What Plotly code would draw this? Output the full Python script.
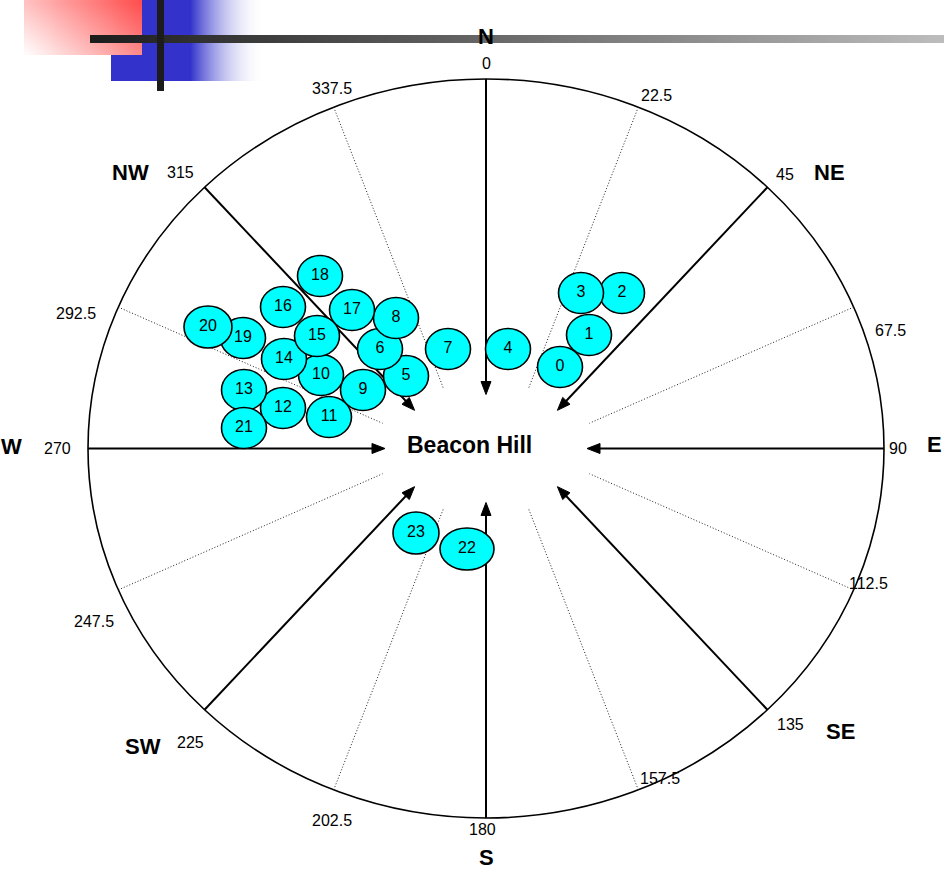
import math
import numpy as np
import plotly.graph_objects as go

# ---------------- data ----------------
site_ids = [str(i) for i in range(24)]
site_x = [560, 589, 622, 581, 508, 406, 380, 448, 396, 363, 321, 329,
          283, 244, 284, 317, 283, 352, 320, 243, 208, 244, 467, 416]
site_y = [367, 335, 293, 293, 349, 376, 349, 349, 318, 390, 375, 417,
          408, 390, 359, 336, 307, 310, 276, 338, 327, 428, 549, 533]

major_angles = [0, 45, 90, 135, 180, 225, 270, 315]
major_names = ["N", "NE", "E", "SE", "S", "SW", "W", "NW"]
minor_angles = [22.5, 67.5, 112.5, 157.5, 202.5, 247.5, 292.5, 337.5]
degree_labels = ["0", "22.5", "45", "67.5", "90", "112.5", "135", "157.5",
                 "180", "202.5", "225", "247.5", "270", "292.5", "315", "337.5"]
centre_label = "Beacon Hill"

# ---------------- layout constants ----------------
W, H = 944, 872
CX, CY = 486, 448.5
RX, RY = 398, 369.5           # outer ellipse
ARX, ARY = 101, 54            # arrow tips
DRX, DRY = 112, 66            # inner ends of dotted lines
FONT = "Liberation Sans, Arial, sans-serif"

# label anchors (layout)
deg_pos = {"0": (486, 63), "22.5": (656, 95), "45": (785, 174), "67.5": (890, 330),
           "90": (898, 448), "112.5": (868, 583), "135": (790, 724), "157.5": (660, 778),
           "180": (482, 829), "202.5": (332, 820), "225": (190, 742), "247.5": (94, 621),
           "270": (57, 448), "292.5": (76, 313), "315": (180, 172), "337.5": (332, 88)}
name_pos = {"N": (486, 36), "NE": (829, 172), "E": (934, 444), "SE": (840, 731),
            "S": (486, 857), "SW": (143, 746), "W": (11, 446), "NW": (130, 172)}
site_size_override = {"20": (48, 42), "22": (54, 42), "23": (46, 42)}
SITE_W, SITE_H = 45, 41


def pt(theta, rx, ry):
    t = math.radians(theta)
    return CX + rx * math.sin(t), CY - ry * math.cos(t)


fig = go.Figure()
shapes = []

# ---- decoration (top-left) ----
bx = np.linspace(111, 265, 78)
bxc = (bx[:-1] + bx[1:]) / 2
bz_row = np.clip((265 - bxc) / 75.0, 0, 1) ** 2
fig.add_trace(go.Heatmap(x=bx, y=[0, 40.5, 81], z=[bz_row, bz_row], zsmooth="best",
                         colorscale=[[0, "#FFFFFF"], [1, "#3333CC"]], zmin=0, zmax=1,
                         showscale=False, hoverinfo="skip"))
rx_e = np.linspace(24, 142, 31)
ry_e = np.linspace(0, 55, 12)
rxc = (rx_e[:-1] + rx_e[1:]) / 2
ryc = (ry_e[:-1] + ry_e[1:]) / 2
rz = [[0.65 * (xx - 24) / 118 + 0.35 * (1 - yy / 55) for xx in rxc] for yy in ryc]
fig.add_trace(go.Heatmap(x=rx_e, y=ry_e, z=rz, zsmooth="best",
                         colorscale=[[0, "#FFFFFF"], [1, "#FF4A4A"]], zmin=0, zmax=1,
                         showscale=False, hoverinfo="skip"))
hx = np.linspace(90, 944, 86)
hxc = (hx[:-1] + hx[1:]) / 2
hz = (hxc - 90) / 854
fig.add_trace(go.Heatmap(x=hx, y=[35, 39, 43], z=[hz, hz], zsmooth="best",
                         colorscale=[[0, "#1C1C1C"], [1, "#BDBDBD"]], zmin=0, zmax=1,
                         showscale=False, hoverinfo="skip"))
shapes.append(dict(type="rect", x0=157, x1=164, y0=0, y1=91, xref="x", yref="y",
                   fillcolor="#1C1C1C", line=dict(width=0), layer="above"))

# ---- outer ellipse ----
shapes.append(dict(type="circle", x0=CX - RX, x1=CX + RX, y0=CY - RY, y1=CY + RY,
                   xref="x", yref="y", line=dict(color="black", width=1.6), layer="below"))

# ---- dotted minor lines ----
for a in minor_angles:
    x0, y0 = pt(a, RX, RY)
    x1, y1 = pt(a, DRX, DRY)
    shapes.append(dict(type="line", x0=x0, y0=y0, x1=x1, y1=y1, xref="x", yref="y",
                       line=dict(color="#222222", width=1, dash="1px,2px"), layer="below"))

# ---- solid arrows ----
L, HW = 13, 5
for a in major_angles:
    x0, y0 = pt(a, RX, RY)
    xt, yt = pt(a, ARX, ARY)
    dx, dy = xt - x0, yt - y0
    n = math.hypot(dx, dy)
    ux, uy = dx / n, dy / n
    px, py = -uy, ux
    xe, ye = xt - ux * (L - 2), yt - uy * (L - 2)
    shapes.append(dict(type="line", x0=x0, y0=y0, x1=xe, y1=ye, xref="x", yref="y",
                       line=dict(color="black", width=2), layer="below"))
    bxp, byp = xt - ux * L, yt - uy * L
    path = (f"M {xt},{yt} L {bxp + px * HW},{byp + py * HW} "
            f"L {bxp - px * HW},{byp - py * HW} Z")
    shapes.append(dict(type="path", path=path, xref="x", yref="y", fillcolor="black",
                       line=dict(color="black", width=1), layer="below"))

# ---- site ellipses ----
for sid, sx, sy in zip(site_ids, site_x, site_y):
    w, h = site_size_override.get(sid, (SITE_W, SITE_H))
    shapes.append(dict(type="circle", x0=sx - w / 2, x1=sx + w / 2, y0=sy - h / 2, y1=sy + h / 2,
                       xref="x", yref="y", fillcolor="#00FFFF",
                       line=dict(color="black", width=1.6), layer="below"))

fig.add_trace(go.Scatter(x=site_x, y=site_y, mode="text", text=site_ids,
                         textposition="middle center",
                         textfont=dict(family=FONT, size=16, color="black"),
                         hoverinfo="skip", showlegend=False))

# ---- text ----
annotations = []
for lab in degree_labels:
    x, y = deg_pos[lab]
    annotations.append(dict(x=x, y=y, text=lab, showarrow=False, xref="x", yref="y",
                            xanchor="center", yanchor="middle",
                            font=dict(family=FONT, size=16, color="black")))
for nm in major_names:
    x, y = name_pos[nm]
    annotations.append(dict(x=x, y=y, text=f"<b>{nm}</b>", showarrow=False, xref="x", yref="y",
                            xanchor="center", yanchor="middle",
                            font=dict(family=FONT, size=22, color="black")))
annotations.append(dict(x=469, y=445, text=f"<b>{centre_label}</b>", showarrow=False,
                        xref="x", yref="y", xanchor="center", yanchor="middle",
                        font=dict(family=FONT, size=23, color="black")))

fig.update_layout(
    width=W, height=H, margin=dict(l=0, r=0, t=0, b=0),
    paper_bgcolor="white", plot_bgcolor="white", showlegend=False,
    xaxis=dict(range=[0, W], visible=False, showgrid=False, zeroline=False, fixedrange=True),
    yaxis=dict(range=[H, 0], visible=False, showgrid=False, zeroline=False, fixedrange=True),
    shapes=shapes, annotations=annotations,
)

fig.write_html("out.html", config={"displayModeBar": False},
               post_script="document.body.style.margin='0';document.body.style.overflow='hidden';")
